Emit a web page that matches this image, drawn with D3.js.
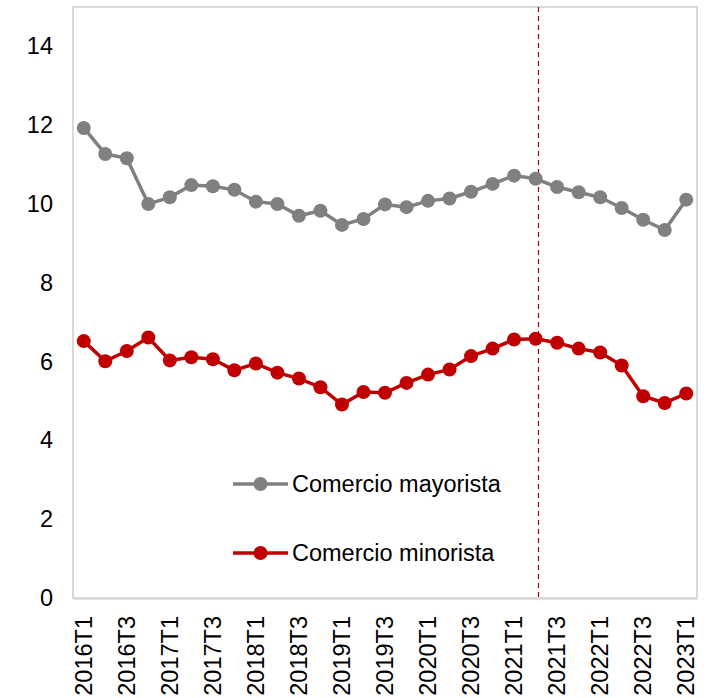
<!DOCTYPE html>
<html>
<head>
<meta charset="utf-8">
<script src="https://cdn.jsdelivr.net/npm/d3@7"></script>
<style>
    body { margin: 0; background: #fff; }
    svg { display: block; font-family: "Liberation Sans", Arial, sans-serif; }
</style>
</head>
<body>
<svg id="chart"></svg>
<script>
"use strict";

// quarters 2016T1 .. 2023T1
var quarters = [];
for (var y = 2016; y <= 2023; y++) {
    for (var q = 1; q <= 4; q++) {
        if (y == 2023 && q > 1) break;
        quarters.push(y + "T" + q);
    }
}

var mayorista = [11.93, 11.27, 11.16, 10.0, 10.17, 10.48, 10.45, 10.36, 10.06, 10.0,
    9.70, 9.83, 9.47, 9.62, 9.99, 9.92, 10.08, 10.14, 10.31, 10.51,
    10.72, 10.64, 10.43, 10.30, 10.17, 9.90, 9.60, 9.34, 10.11];
var minorista = [6.52, 6.01, 6.27, 6.61, 6.03, 6.11, 6.06, 5.78, 5.95, 5.72,
    5.57, 5.35, 4.91, 5.23, 5.21, 5.46, 5.67, 5.80, 6.14, 6.33,
    6.56, 6.58, 6.48, 6.33, 6.23, 5.90, 5.12, 4.95, 5.19];
var yTicks = [0, 2, 4, 6, 8, 10, 12, 14];
var markerQuarter = "2021T2";

var series = [
    { name: "Comercio mayorista", values: mayorista, color: "#808080" },
    { name: "Comercio minorista", values: minorista, color: "#C00000" }
];

var width = 712, height = 698;
var margin = { top: 7, right: 15, bottom: 100, left: 73 };
var fontSize = "23.5px";

var svg = d3.select("#chart")
    .attr("width", width)
    .attr("height", height);

var xScale = d3.scaleBand()
    .domain(quarters)
    .range([margin.left, width - margin.right]);
var yScale = d3.scaleLinear()
    .domain([0, 15])
    .range([height - margin.bottom, margin.top]);

var xc = d => xScale(d) + xScale.bandwidth() / 2;

// plot frame
svg.append("rect")
    .attr("x", margin.left)
    .attr("y", margin.top)
    .attr("width", width - margin.left - margin.right)
    .attr("height", height - margin.top - margin.bottom)
    .style("fill", "none")
    .style("stroke", "#d9d9d9")
    .style("stroke-width", 2);

// y axis labels
var yAxis = svg.append("g")
    .attr("transform", "translate(" + margin.left + ",0)")
    .call(d3.axisLeft(yScale).tickValues(yTicks).tickSize(0).tickPadding(20));
yAxis.select(".domain").remove();
yAxis.selectAll("text")
    .style("font-size", fontSize)
    .style("fill", "#000")
    .style("font-family", "Liberation Sans, Arial, sans-serif");

// x axis
var xAxis = svg.append("g")
    .attr("transform", "translate(0," + (height - margin.bottom) + ")")
    .call(d3.axisBottom(xScale)
        .tickValues(quarters.filter((d, i) => i % 2 == 0))
        .tickSize(0));
xAxis.select(".domain")
    .style("stroke", "#d9d9d9")
    .style("stroke-width", 2.5);
xAxis.selectAll("text")
    .attr("transform", "rotate(-90)")
    .attr("x", -18)
    .attr("y", 0)
    .attr("dy", "0.35em")
    .style("text-anchor", "end")
    .style("font-size", fontSize)
    .style("fill", "#000")
    .style("font-family", "Liberation Sans, Arial, sans-serif");

// vertical dashed line
var lx = Math.round(xc(markerQuarter) + 2) + 0.5;
svg.append("line")
    .attr("x1", lx)
    .attr("x2", lx)
    .attr("y1", margin.top)
    .attr("y2", height - margin.bottom)
    .style("stroke", "#a00000")
    .style("stroke-width", 1.2)
    .style("stroke-dasharray", "5,4");

var line = d3.line()
    .x((d, i) => xc(quarters[i]))
    .y(d => yScale(d));

series.forEach(function (s) {
    var g = svg.append("g");
    g.append("path")
        .datum(s.values)
        .attr("d", line)
        .style("fill", "none")
        .style("stroke", s.color)
        .style("stroke-width", 3.5);
    g.selectAll("circle")
        .data(s.values)
        .enter()
        .append("circle")
        .attr("cx", (d, i) => xc(quarters[i]))
        .attr("cy", d => yScale(d))
        .attr("r", 7)
        .style("fill", s.color);
});

// legend
var legend = svg.append("g")
    .attr("transform", "translate(233,484)");
series.forEach(function (s, i) {
    var g = legend.append("g").attr("transform", "translate(0," + (i * 69) + ")");
    g.append("line")
        .attr("x1", 0).attr("x2", 55)
        .attr("y1", 0).attr("y2", 0)
        .style("stroke", s.color)
        .style("stroke-width", 3.5);
    g.append("circle")
        .attr("cx", 27.5).attr("cy", 0).attr("r", 7)
        .style("fill", s.color);
    g.append("text")
        .attr("x", 59)
        .attr("y", 0)
        .attr("dy", "0.35em")
        .style("font-size", fontSize)
        .style("fill", "#000")
        .text(s.name);
});
</script>
</body>
</html>
